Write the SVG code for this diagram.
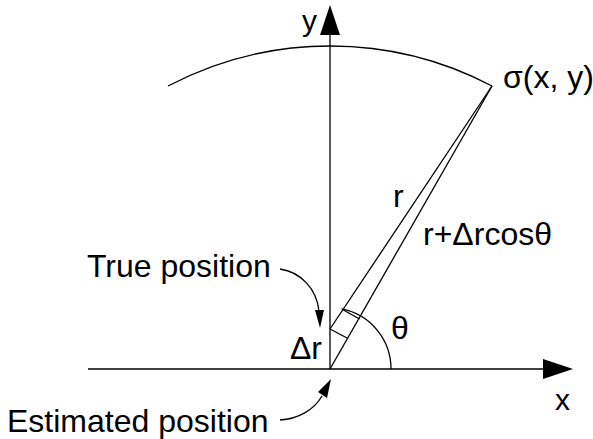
<svg xmlns="http://www.w3.org/2000/svg" width="593" height="439" viewBox="0 0 593 439">
<style>
.ln{fill:none;stroke:#000;stroke-width:1.3}
.hd{fill:#000;stroke:none}
text{font-family:"Liberation Sans",Arial,sans-serif;font-size:32px;fill:#000}
.ax{font-size:30px}
</style>
<rect width="593" height="439" fill="#fff"/>
<g id="connectors">
<path class="ln" d="M88,369 H545"/>
<polygon class="hd" points="543,359 573,369 543,379"/>
<path class="ln" d="M330,369 V33"/>
<polygon class="hd" points="320,35 330,5 340,35"/>
<path class="ln" d="M168,86 A348,348 0 0 1 492,86"/>
<path class="ln" d="M330,369 L492,86"/>
<path class="ln" d="M330,329 L492,86"/>
<path class="ln" d="M330,329 L348,338.5"/>
<path class="ln" d="M342.5,309.5 L359.5,319"/>
<path class="ln" d="M341.6,308.9 A61,61 0 0 1 391,369"/>
<path class="ln" d="M280,269 C300,272 317,288 319,312"/>
<polygon class="hd" points="315,310 324,310 320,328"/>
<path class="ln" d="M280,420 C298,419 314,410 322,396"/>
<polygon class="hd" points="318,392 327,398 331,379"/>
</g>
<g id="labels">
<text class="ax" x="302" y="31">y</text>
<text class="ax" x="555" y="410">x</text>
<text x="503" y="88">σ(x, y)</text>
<text x="393" y="207">r</text>
<text x="423" y="245">r+Δrcosθ</text>
<text x="87" y="277">True position</text>
<text x="322" y="359" text-anchor="end">Δr</text>
<text x="391" y="339">θ</text>
<text x="7" y="432">Estimated position</text>
</g>
</svg>
